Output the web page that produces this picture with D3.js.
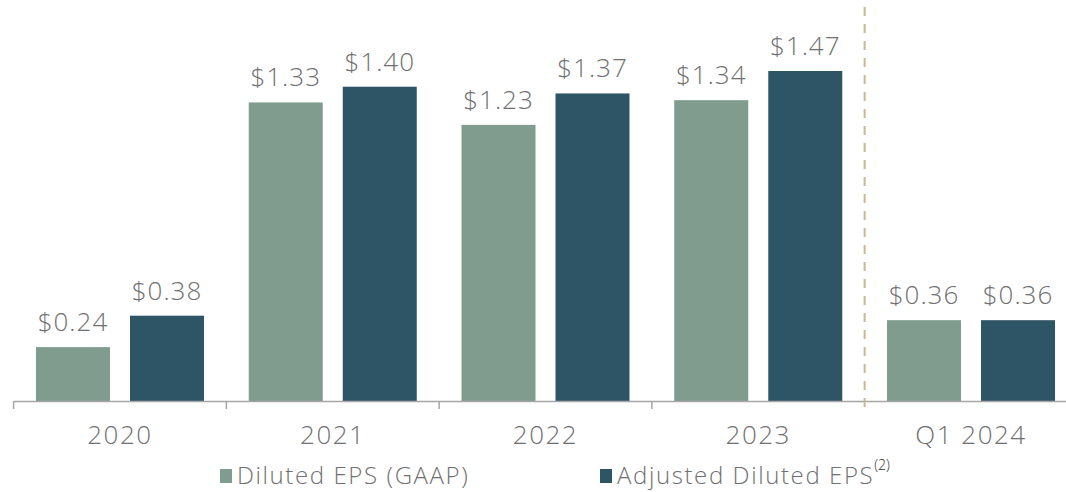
<!DOCTYPE html>
<html>
<head>
<meta charset="utf-8">
<script src="https://cdn.jsdelivr.net/npm/d3@7"></script>
<style>
  body { margin: 0; background: #fff; }
  svg text { font-family: "Open Sans", "Noto Sans", sans-serif; fill: #707070; font-weight: 300; }
</style>
</head>
<body>
<div id="chart"></div>
<script>
const categories = ["2020", "2021", "2022", "2023", "Q1 2024"];
const seriesNames = ["Diluted EPS (GAAP)", "Adjusted Diluted EPS"];
const gaapValues = [0.24, 1.33, 1.23, 1.34, 0.36];
const adjustedValues = [0.38, 1.40, 1.37, 1.47, 0.36];
const seriesColors = ["#7f9c8f", "#2e5565"];

const width = 1066, height = 492;
const baseY = 401;

const svg = d3.select("#chart").append("svg")
    .attr("width", width)
    .attr("height", height);

const x = d3.scaleBand()
    .domain(categories)
    .range([13.6, 1077.4]);

const xInner = d3.scaleBand()
    .domain(seriesNames)
    .range([0, x.bandwidth()])
    .paddingInner(0.213)
    .paddingOuter(0.238);

const y = d3.scaleLinear()
    .domain([0, 1.47])
    .range([baseY, 71]);

const rows = categories.map((c, i) => ({
    cat: c,
    values: [gaapValues[i], adjustedValues[i]]
}));

const groups = svg.selectAll(".grp")
    .data(rows)
    .enter()
    .append("g")
    .attr("transform", d => `translate(${x(d.cat)},0)`);

groups.selectAll("rect")
    .data(d => d.values.map((v, j) => ({ v, j })))
    .enter()
    .append("rect")
    .attr("x", d => xInner(seriesNames[d.j]))
    .attr("y", d => y(d.v))
    .attr("width", xInner.bandwidth())
    .attr("height", d => baseY - y(d.v))
    .attr("fill", d => seriesColors[d.j]);

groups.selectAll(".val")
    .data(d => d.values.map((v, j) => ({ v, j })))
    .enter()
    .append("text")
    .attr("x", d => xInner(seriesNames[d.j]) + xInner.bandwidth() / 2)
    .attr("y", d => y(d.v) - 16)
    .attr("text-anchor", "middle")
    .style("font-size", "26px")
    .style("letter-spacing", "1px")
    .text(d => "$" + d.v.toFixed(2));

// x axis
const axis = svg.append("g")
    .attr("transform", `translate(0,${baseY})`)
    .call(d3.axisBottom(x).tickSize(0).tickPadding(0).tickFormat(""));
axis.select(".domain").attr("stroke", "#a6a6a6").attr("stroke-width", 1.5);
axis.selectAll(".tick").remove();

svg.append("g")
    .selectAll("line")
    .data(categories.slice(0, 4))
    .enter()
    .append("line")
    .attr("x1", d => x(d))
    .attr("x2", d => x(d))
    .attr("y1", baseY)
    .attr("y2", baseY + 8)
    .attr("stroke", "#a6a6a6")
    .attr("stroke-width", 1.5);

svg.append("g")
    .selectAll("text")
    .data(categories)
    .enter()
    .append("text")
    .attr("x", d => x(d) + x.bandwidth() / 2)
    .attr("y", 444)
    .attr("text-anchor", "middle")
    .style("font-size", "26px")
    .style("letter-spacing", "1.5px")
    .text(d => d);

// divider before Q1 2024
const divX = x("Q1 2024");
svg.append("line")
    .attr("x1", divX)
    .attr("x2", divX)
    .attr("y1", 7)
    .attr("y2", 410)
    .attr("stroke", "#c9b891")
    .attr("stroke-width", 2)
    .attr("stroke-dasharray", "9,8");

// legend
const legendX = [220, 600];
const legend = svg.append("g");
seriesNames.forEach((name, i) => {
    legend.append("rect")
        .attr("x", legendX[i])
        .attr("y", 469)
        .attr("width", 12)
        .attr("height", 14)
        .attr("fill", seriesColors[i]);
    const t = legend.append("text")
        .attr("x", legendX[i] + 17)
        .attr("y", 484)
        .style("font-size", "24px")
        .style("letter-spacing", "1.6px")
        .text(name);
    if (i === 1) {
        t.append("tspan")
            .attr("dy", -14)
            .style("font-size", "14px")
            .style("letter-spacing", "0px")
            .style("fill", "#333")
            .text("(2)");
    }
});
</script>
</body>
</html>
